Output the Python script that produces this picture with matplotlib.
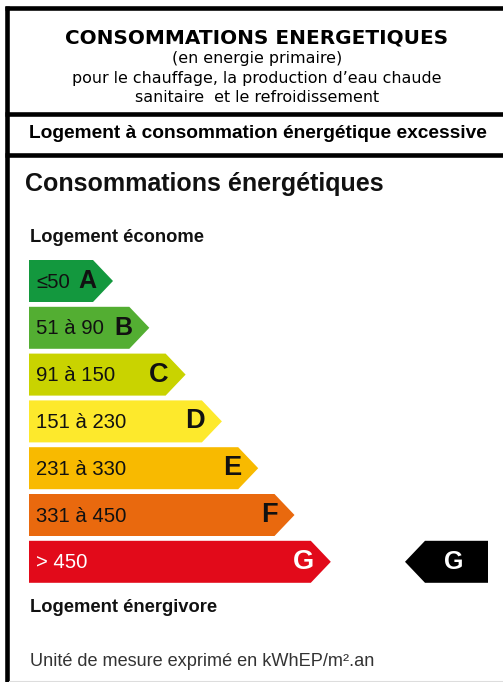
import matplotlib
matplotlib.use("Agg")
import matplotlib.pyplot as plt
from matplotlib.patches import Polygon

# ---- data ----
classes = ["A", "B", "C", "D", "E", "F", "G"]
ranges = ["≤50", "51 à 90", "91 à 150", "151 à 230", "231 à 330", "331 à 450", "> 450"]
class_colors = ["#13983e", "#53ae32", "#c9d300", "#fde92c", "#f8ba00", "#e9690e", "#e20a1a"]
text_colors = ["#111111"] * 6 + ["#ffffff"]
rating = "G"

title_lines = ["CONSOMMATIONS ENERGETIQUES", "(en energie primaire)",
               "pour le chauffage, la production d’eau chaude",
               "sanitaire  et le refroidissement"]
banner = "Logement à consommation énergétique excessive"
section_title = "Consommations énergétiques"
top_note = "Logement économe"
bottom_note = "Logement énergivore"
unit_note = "Unité de mesure exprimé en kWhEP/m².an"

# ---- figure ----
W, H = 503, 682
fig = plt.figure(figsize=(W / 100, H / 100), dpi=100)
ax = fig.add_axes([0, 0, 1, 1])
ax.set_xlim(0, W)
ax.set_ylim(H, 0)
ax.axis("off")

SANS = ["Liberation Sans", "DejaVu Sans"]
VERD = ["DejaVu Sans"]

# frame lines
lw = 3.3
ax.plot([7.3, 7.3], [6, H], color="black", lw=lw, solid_capstyle="butt")
ax.plot([5, W], [8, 8], color="black", lw=lw, solid_capstyle="butt")
ax.plot([5, W], [114, 114], color="black", lw=lw, solid_capstyle="butt")
ax.plot([5, W], [155, 155], color="black", lw=lw, solid_capstyle="butt")
ax.plot([9, W], [680.5, 680.5], color="#dddddd", lw=0.8)

# header
ax.text(257, 38, title_lines[0], family=VERD, weight="bold", fontsize=14.4,
        ha="center", va="center", color="black")
for i, line in enumerate(title_lines[1:]):
    ax.text(257, 59 + i * 19, line, family=VERD, fontsize=11.4,
            ha="center", va="center", color="black")

ax.text(258, 134, banner, family=SANS, weight="bold", fontsize=13.8,
        ha="center", va="center", color="black")

ax.text(25, 184, section_title, family=SANS, weight="bold", fontsize=18,
        ha="left", va="center", color="#111111")
ax.text(30, 238, top_note, family=SANS, weight="bold", fontsize=13.2,
        ha="left", va="center", color="#111111")
ax.text(30, 607, bottom_note, family=SANS, weight="bold", fontsize=13.2,
        ha="left", va="center", color="#111111")
ax.text(30, 662, unit_note, family=SANS, fontsize=13.1,
        ha="left", va="center", color="#333333")

# arrows
x0, top0, pitch, bh = 29, 260, 46.8, 42
right0, step, tip = 93, 36.3, 20
for i, (c, r, col, tc) in enumerate(zip(classes, ranges, class_colors, text_colors)):
    top = top0 + i * pitch
    bot = top + bh
    xr = right0 + i * step
    poly = Polygon([(x0, top), (xr, top), (xr + tip, (top + bot) / 2), (xr, bot), (x0, bot)],
                   closed=True, facecolor=col, edgecolor="none")
    ax.add_patch(poly)
    yc = (top + bot) / 2
    ax.text(36, yc + 1, r, family=SANS, fontsize=14.6, ha="left", va="center", color=tc)
    lsize = 18 if i < 2 else 19.5
    ax.text(xr + 3, yc, c, family=SANS, weight="bold", fontsize=lsize,
            ha="right", va="center", color=tc)
    if c == rating:
        ml, mr = 405, 488
        ax.add_patch(Polygon([(ml, yc), (ml + tip, top), (mr, top), (mr, bot), (ml + tip, bot)],
                             closed=True, facecolor="black", edgecolor="none"))
        ax.text(454, yc, c, family=SANS, weight="bold", fontsize=18,
                ha="center", va="center", color="white")

fig.savefig("out.png", dpi=100)
